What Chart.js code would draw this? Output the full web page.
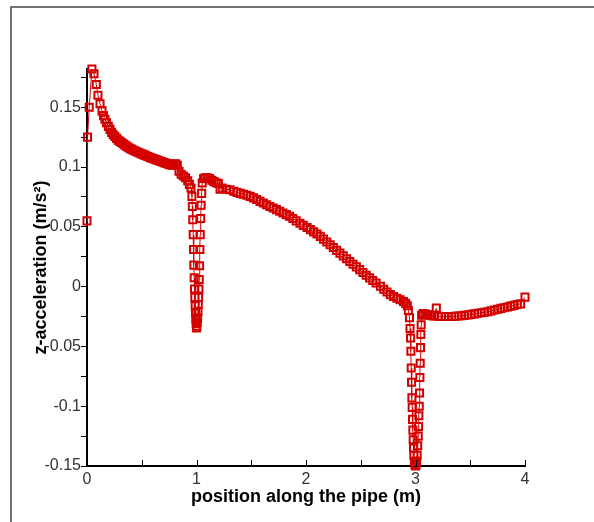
<!DOCTYPE html>
<html>
<head>
<meta charset="utf-8">
<script src="https://cdn.jsdelivr.net/npm/chart.js@4.4.1/dist/chart.umd.min.js"></script>
<style>
  html, body { margin: 0; padding: 0; background: #fff; }
  #wrap { position: relative; width: 594px; height: 522px; }
</style>
</head>
<body>
<div id="wrap"><canvas id="accelChart" width="594" height="522"></canvas></div>
<script>
// position along the pipe (m)
const positionM = [
  0, 0.005, 0.02, 0.045, 0.064, 0.085, 0.1, 0.119, 0.137, 0.15, 0.164, 0.178, 0.195,
  0.21, 0.225, 0.24, 0.255, 0.27, 0.285, 0.3, 0.315, 0.33, 0.345, 0.36, 0.375, 0.39, 0.405,
  0.42, 0.435, 0.45, 0.465, 0.48, 0.495, 0.51, 0.525, 0.54, 0.555, 0.57, 0.585, 0.6, 0.615,
  0.63, 0.645, 0.66, 0.675, 0.69, 0.705, 0.72, 0.735, 0.75, 0.765, 0.78, 0.795, 0.81, 0.825,
  0.84, 0.86, 0.88, 0.9, 0.92, 0.935, 0.95,
  0.958, 0.962, 0.966, 0.97, 0.973, 0.976, 0.979, 0.982, 0.985, 0.988, 0.991, 0.994, 0.997, 1.0,
  1.003, 1.006, 1.01, 1.013, 1.016, 1.019, 1.022, 1.025, 1.028, 1.031, 1.034,
  1.038, 1.042, 1.047, 1.052, 1.065, 1.08, 1.1, 1.12, 1.14, 1.16, 1.18, 1.2, 1.215, 1.235, 1.27,
  1.306, 1.34, 1.37, 1.4, 1.43, 1.46, 1.49, 1.52, 1.55, 1.58, 1.61, 1.64, 1.67, 1.7, 1.73,
  1.76, 1.79, 1.82, 1.85, 1.88, 1.91, 1.945, 1.975, 2.01, 2.04, 2.07, 2.1, 2.13, 2.16, 2.19,
  2.22, 2.25, 2.28, 2.31, 2.34, 2.37, 2.4, 2.43, 2.46, 2.49, 2.52, 2.55, 2.58, 2.61, 2.64,
  2.68, 2.71, 2.74, 2.77, 2.8, 2.83, 2.86, 2.89, 2.91, 2.925, 2.935, 2.945,
  2.95, 2.955, 2.958, 2.961, 2.964, 2.967, 2.97, 2.973, 2.976, 2.979, 2.982, 2.985,
  2.99, 2.995, 3.0, 3.005, 3.01, 3.015, 3.02, 3.025,
  3.028, 3.031, 3.034, 3.037, 3.04, 3.043, 3.046, 3.049, 3.052, 3.056,
  3.07, 3.09, 3.11, 3.13, 3.15, 3.17, 3.19, 3.21,
  3.24, 3.27, 3.3, 3.33, 3.36, 3.39, 3.42, 3.45, 3.48, 3.51, 3.54, 3.57, 3.6, 3.63, 3.66,
  3.69, 3.72, 3.75, 3.78, 3.81, 3.84, 3.87, 3.9, 3.93, 3.96, 4.0
];

// z-acceleration (m/s^2)
const zAccel = [
  0.055, 0.125, 0.15, 0.182, 0.178, 0.169, 0.16, 0.153, 0.147, 0.143, 0.14, 0.137, 0.134,
  0.1315, 0.129, 0.127, 0.1255, 0.124, 0.1225, 0.1215, 0.1205, 0.1195, 0.1185, 0.1175, 0.1165, 0.1158, 0.115,
  0.1143, 0.1136, 0.113, 0.1124, 0.1118, 0.1112, 0.1106, 0.11, 0.1094, 0.1088, 0.1082, 0.1077, 0.1072, 0.1067,
  0.1062, 0.1057, 0.1052, 0.1047, 0.1042, 0.1037, 0.1032, 0.1027, 0.1022, 0.1018, 0.1015, 0.1025, 0.1028, 0.1015,
  0.0965, 0.094, 0.0925, 0.091, 0.0885, 0.0855, 0.0825,
  0.0755, 0.067, 0.056, 0.0435, 0.031, 0.018, 0.0075, -0.002, -0.009, -0.016, -0.022, -0.027, -0.031, -0.0345,
  -0.033, -0.03, -0.026, -0.021, -0.015, -0.009, -0.002, 0.006, 0.0175, 0.031, 0.0435,
  0.057, 0.068, 0.078, 0.0867, 0.0905, 0.091, 0.091, 0.0905, 0.089, 0.0878, 0.0868, 0.0862, 0.0815, 0.0825, 0.0815,
  0.081, 0.0797, 0.0788, 0.078, 0.0772, 0.0764, 0.0755, 0.0742, 0.0728, 0.0713, 0.0699, 0.0685, 0.067, 0.0657, 0.0644,
  0.063, 0.0616, 0.0602, 0.0588, 0.057, 0.055, 0.053, 0.0512, 0.0495, 0.0477, 0.0458, 0.044, 0.042, 0.0397, 0.0373,
  0.035, 0.0327, 0.0303, 0.028, 0.0257, 0.0233, 0.021, 0.0187, 0.0165, 0.0142, 0.0118, 0.0095, 0.0073, 0.0052, 0.003,
  0.0003, -0.0022, -0.0045, -0.0067, -0.0083, -0.0097, -0.011, -0.0125, -0.014, -0.016, -0.02, -0.026,
  -0.035, -0.043, -0.054, -0.068, -0.08, -0.093, -0.101, -0.111, -0.12, -0.128, -0.135, -0.141,
  -0.146, -0.149, -0.15, -0.149, -0.146, -0.141, -0.133, -0.125,
  -0.117, -0.108, -0.1, -0.089, -0.076, -0.064, -0.051, -0.04, -0.032, -0.024,
  -0.0225, -0.023, -0.0235, -0.024, -0.0243, -0.0245, -0.018, -0.0248,
  -0.025, -0.025, -0.025, -0.025, -0.0248, -0.0245, -0.0243, -0.024, -0.0236, -0.0232, -0.0228, -0.0223, -0.0218, -0.0214, -0.021,
  -0.0203, -0.0196, -0.0189, -0.0182, -0.0176, -0.017, -0.0163, -0.0157, -0.015, -0.0144, -0.0088
];

const xTickValues = [0, 0.5, 1, 1.5, 2, 2.5, 3, 3.5, 4];
const xTickLabels = ['0', '', '1', '', '2', '', '3', '', '4'];
const yTickValues = [-0.15, -0.125, -0.1, -0.075, -0.05, -0.025, 0, 0.025, 0.05, 0.075, 0.1, 0.125, 0.15, 0.175];
const yTickLabels = ['-0.15', '', '-0.1', '', '-0.05', '', '0', '', '0.05', '', '0.1', '', '0.15', ''];

const red = 'rgb(212, 0, 0)';

// outer frame (top + left only) and the inward ticks on the x axis
const frameAndTicks = {
  id: 'frameAndTicks',
  beforeDraw(chart) {
    const ctx = chart.ctx;
    ctx.save();
    ctx.strokeStyle = '#444';
    ctx.lineWidth = 1.5;
    ctx.beginPath();
    ctx.moveTo(11, 522);
    ctx.lineTo(11, 7);
    ctx.lineTo(594, 7);
    ctx.stroke();
    ctx.restore();
  },
  afterDraw(chart) {
    const xs = chart.scales.x;
    const ctx = chart.ctx;
    ctx.save();
    ctx.strokeStyle = '#000';
    ctx.lineWidth = 1;
    xs.ticks.forEach(t => {
      const px = Math.round(xs.getPixelForValue(t.value)) + 0.5;
      ctx.beginPath();
      ctx.moveTo(px, xs.top);
      ctx.lineTo(px, xs.top - 6);
      ctx.stroke();
    });
    ctx.restore();
  }
};

Chart.defaults.font.family = 'Arial, "Liberation Sans", sans-serif';

const ctx = document.getElementById('accelChart').getContext('2d');
new Chart(ctx, {
  type: 'line',
  data: {
    datasets: [{
      data: positionM.map((x, i) => ({ x: x, y: zAccel[i] })),
      borderColor: red,
      borderWidth: 1,
      pointStyle: 'rect',
      pointRadius: 5,
      pointBorderWidth: 2,
      pointBorderColor: red,
      pointBackgroundColor: 'rgba(255,255,255,0)',
      tension: 0,
      clip: false
    }]
  },
  options: {
    responsive: false,
    animation: false,
    devicePixelRatio: 1,
    layout: { padding: { top: 69, right: 69, left: 0, bottom: 0 } },
    plugins: {
      legend: { display: false },
      tooltip: { enabled: false }
    },
    scales: {
      x: {
        type: 'linear',
        min: 0,
        max: 4,
        afterBuildTicks: s => { s.ticks = xTickValues.map(v => ({ value: v })); },
        afterFit: s => { s.height = 56; },
        grid: { display: false },
        border: { display: true, color: '#000', width: 2 },
        ticks: {
          autoSkip: false,
          maxRotation: 0,
          padding: -4,
          color: '#333',
          font: { size: 16 },
          callback: (v, i) => xTickLabels[i]
        },
        title: {
          display: true,
          text: 'position along the pipe (m)',
          color: '#000',
          font: { size: 18, weight: 'bold', lineHeight: 1 },
          padding: { top: 0, bottom: 16 }
        }
      },
      y: {
        type: 'linear',
        min: -0.15,
        max: 0.182,
        afterBuildTicks: s => { s.ticks = yTickValues.map(v => ({ value: v })); },
        afterFit: s => { s.width = 87; },
        grid: { drawOnChartArea: false, drawTicks: true, tickLength: 6, color: '#000', lineWidth: 1 },
        border: { display: true, color: '#000', width: 2 },
        ticks: {
          autoSkip: false,
          padding: 0,
          color: '#333',
          font: { size: 16 },
          callback: (v, i) => yTickLabels[i]
        },
        title: {
          display: true,
          text: 'z-acceleration (m/s\u00B2)',
          color: '#000',
          font: { size: 18, weight: 'bold', lineHeight: 1 },
          padding: { top: 32, bottom: 0 }
        }
      }
    }
  },
  plugins: [frameAndTicks]
});
</script>
</body>
</html>
